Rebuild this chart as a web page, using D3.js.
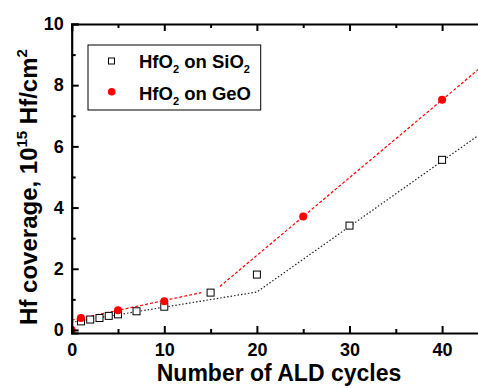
<!DOCTYPE html>
<html>
<head>
<meta charset="utf-8">
<script src="https://cdn.jsdelivr.net/npm/d3@7"></script>
<style>
  body { margin: 0; background: #fff; }
  text { font-family: "Liberation Sans", Arial, sans-serif; font-weight: bold; }
</style>
</head>
<body>
<svg id="chart" width="478" height="388"></svg>
<script>
// measured points
const cyclesSiO2 = [1, 2, 3, 4, 5, 7, 10, 15, 20, 30, 40];
const coverSiO2 = [0.28, 0.34, 0.39, 0.46, 0.51, 0.61, 0.76, 1.22, 1.81, 3.41, 5.56];
const cyclesGeO = [0, 1, 5, 10, 25, 40];
const coverGeO = [0.0, 0.39, 0.64, 0.94, 3.71, 7.52];

// fit lines (piecewise)
const fitSiO2 = [[0, 0.25], [20, 1.24], [45, 6.59]];
const fitGeOLow = [[0, 0.32], [14, 1.22]];
const fitGeOHigh = [[16, 1.42], [45, 8.79]];

const xTicks = [0, 10, 20, 30, 40];
const xMinor = [5, 15, 25, 35];
const yTicks = [0, 2, 4, 6, 8, 10];
const yMinor = [1, 3, 5, 7, 9];

const svg = d3.select("#chart");
const margin = { top: 24, left: 71.7, bottom: 333 };

const x = d3.scaleLinear().domain([0, 45]).range([margin.left, 488.4]);
const y = d3.scaleLinear().domain([-0.1, 10]).range([margin.bottom, margin.top]);

svg.append("clipPath").attr("id", "plot-clip")
  .append("rect")
  .attr("x", margin.left).attr("y", margin.top)
  .attr("width", 488.4 - margin.left).attr("height", margin.bottom - margin.top);

const plot = svg.append("g").attr("clip-path", "url(#plot-clip)");

const line = d3.line().x((d) => x(d[0])).y((d) => y(d[1]));

plot.append("path").datum(fitSiO2)
  .attr("fill", "none").attr("stroke", "#222")
  .attr("stroke-width", 1.2).attr("stroke-dasharray", "1.5,2")
  .attr("d", line);

[fitGeOLow, fitGeOHigh].forEach((seg) => {
  plot.append("path").datum(seg)
    .attr("fill", "none").attr("stroke", "#ff0000")
    .attr("stroke-width", 1.2).attr("stroke-dasharray", "3,2")
    .attr("d", line);
});

plot.selectAll(".sq").data(cyclesSiO2).join("rect")
  .attr("x", (d) => x(d) - 3.5)
  .attr("y", (d, i) => y(coverSiO2[i]) - 3.5)
  .attr("width", 7).attr("height", 7)
  .attr("fill", "#fff").attr("stroke", "#000").attr("stroke-width", 1);

plot.selectAll(".dot").data(cyclesGeO).join("circle")
  .attr("cx", (d) => x(d))
  .attr("cy", (d, i) => y(coverGeO[i]))
  .attr("r", 4)
  .attr("fill", "#ff0000");

// axes with inward ticks
const axisB = d3.axisBottom(x).tickValues(xTicks).tickSize(-7).tickPadding(10).tickFormat(d3.format("d"));
const axisT = d3.axisTop(x).tickValues(xTicks).tickSize(-7).tickFormat("");
const axisL = d3.axisLeft(y).tickValues(yTicks).tickSize(-7).tickPadding(8).tickFormat(d3.format("d"));

function styleAxis(g) {
  g.select(".domain").attr("stroke-width", 2.2).attr("stroke", "#000");
  g.selectAll(".tick line").attr("stroke-width", 2).attr("stroke", "#000");
  g.selectAll("text").attr("font-size", 18).attr("fill", "#000")
    .attr("font-family", "'Liberation Sans', Arial, sans-serif").attr("font-weight", "bold");
}

svg.append("g").attr("transform", `translate(0,${margin.bottom})`).call(axisB).call(styleAxis);
svg.append("g").attr("transform", `translate(0,${margin.top})`).call(axisT).call(styleAxis);
svg.append("g").attr("transform", `translate(${margin.left},0)`).call(axisL).call(styleAxis);

svg.append("g").attr("transform", `translate(0,${margin.bottom})`)
  .call(d3.axisBottom(x).tickValues(xMinor).tickSize(-4).tickFormat(""))
  .call(styleAxis).select(".domain").remove();
svg.append("g").attr("transform", `translate(0,${margin.top})`)
  .call(d3.axisTop(x).tickValues(xMinor).tickSize(-4).tickFormat(""))
  .call(styleAxis).select(".domain").remove();
svg.append("g").attr("transform", `translate(${margin.left},0)`)
  .call(d3.axisLeft(y).tickValues(yMinor).tickSize(-4).tickFormat(""))
  .call(styleAxis).select(".domain").remove();

// axis titles
svg.append("text")
  .attr("x", 279).attr("y", 381)
  .attr("text-anchor", "middle").attr("font-size", 23)
  .text("Number of ALD cycles");

const yLabel = svg.append("text")
  .attr("transform", "translate(37,187) rotate(-90)")
  .attr("text-anchor", "middle").attr("font-size", 24);
yLabel.append("tspan").text("Hf coverage, 10");
yLabel.append("tspan").attr("font-size", 15).attr("dy", -10).text("15");
yLabel.append("tspan").attr("dy", 10).text(" Hf/cm");
yLabel.append("tspan").attr("font-size", 15).attr("dy", -10).text("2");

// legend
const legend = svg.append("g");
legend.append("rect")
  .attr("x", 88).attr("y", 45).attr("width", 172.7).attr("height", 65)
  .attr("fill", "#fff").attr("stroke", "#000").attr("stroke-width", 1);
legend.append("rect")
  .attr("x", 108.5).attr("y", 58).attr("width", 6).attr("height", 6)
  .attr("fill", "#fff").attr("stroke", "#000");
legend.append("circle").attr("cx", 111.7).attr("cy", 91.7).attr("r", 3.8).attr("fill", "#ff0000");

function legendLabel(yPos, sub) {
  const t = legend.append("text").attr("x", 139).attr("y", yPos).attr("font-size", 18.5);
  t.append("tspan").text("HfO");
  t.append("tspan").attr("font-size", 11).attr("dy", 5).text("2");
  t.append("tspan").attr("dy", -5).text(sub[0]);
  if (sub[1]) t.append("tspan").attr("font-size", 11).attr("dy", 5).text(sub[1]);
}
legendLabel(68, [" on SiO", "2"]);
legendLabel(100, [" on GeO"]);
</script>
</body>
</html>
